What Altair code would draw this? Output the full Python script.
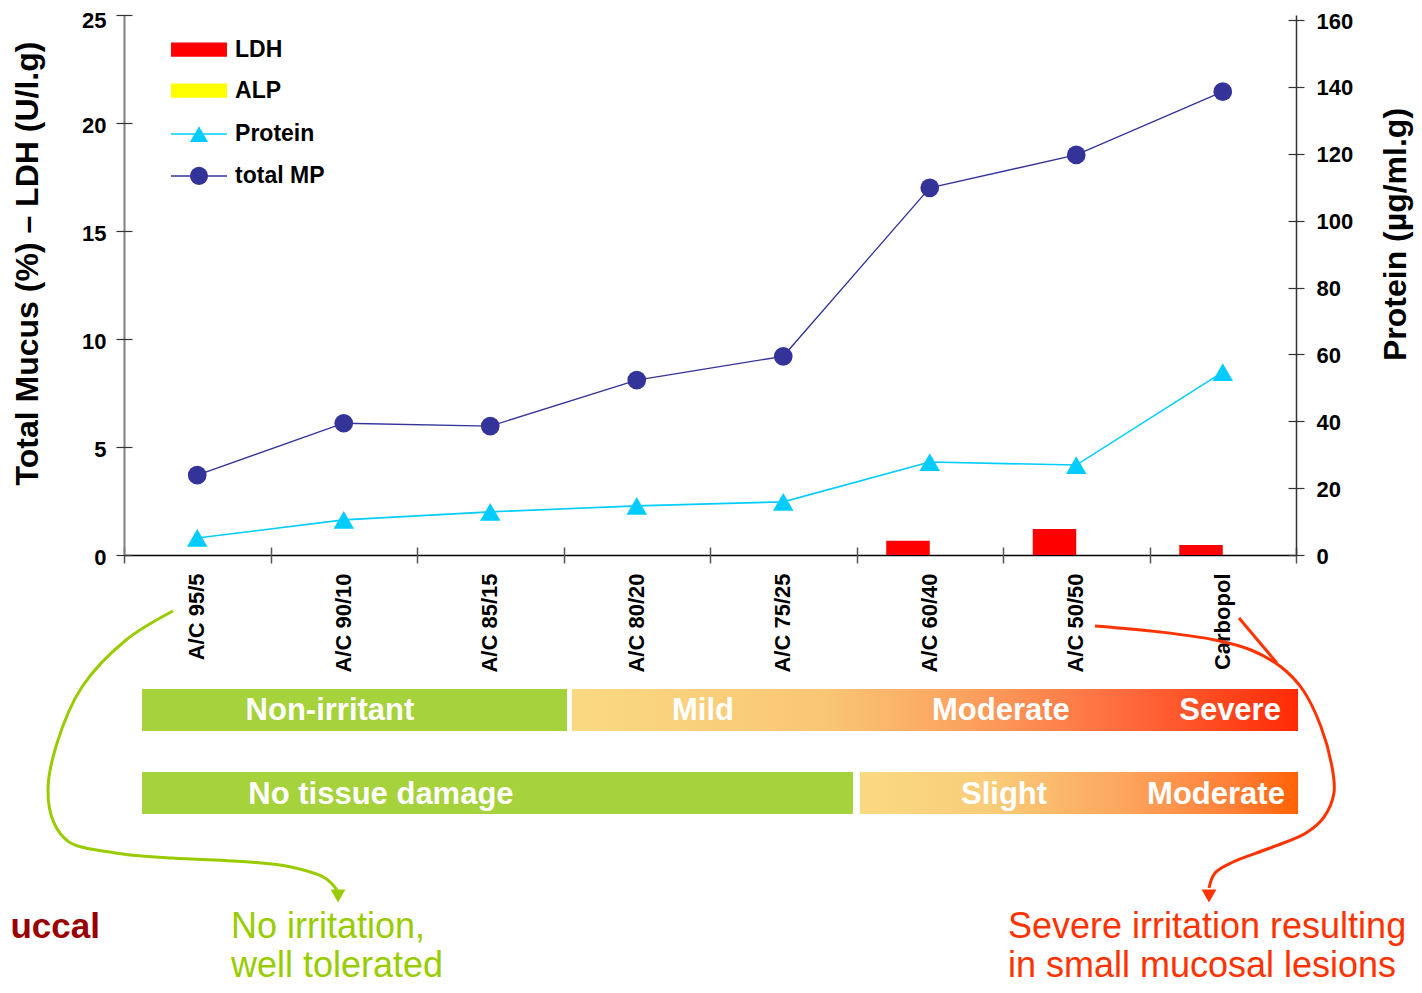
import altair as alt
import pandas as pd

# ---------------- main chart values ----------------
categories = ["A/C 95/5", "A/C 90/10", "A/C 85/15", "A/C 80/20",
              "A/C 75/25", "A/C 60/40", "A/C 50/50", "Carbopol"]
ldh = [0, 0, 0, 0, 0, 0.66, 1.2, 0.46]
alp = [0, 0, 0, 0, 0, 0, 0, 0]
total_mp = [3.7, 6.1, 5.97, 8.1, 9.2, 17.0, 18.52, 21.45]
protein = [5.1, 10.5, 12.9, 14.7, 15.9, 27.8, 26.9, 54.7]

left_ticks = [0, 5, 10, 15, 20, 25]
right_ticks = [0, 20, 40, 60, 80, 100, 120, 140, 160]

# ---------------- annotation values (x in category units, y in left-axis units) ----------------
band_green_label = ["Non-irritant", "No tissue damage"]
band_green_x = [0.123, 0.123]
band_green_x2 = [3.024, 4.976]
band_row_y = [-6.204, -10.046]
band_row_y2 = [-8.148, -11.99]

band_grad1_x, band_grad1_x2 = [3.058], [8.014]
band_grad2_x, band_grad2_x2 = [5.024], [8.014]

band_text = ["Non-irritant", "Mild", "Moderate", "Severe", "No tissue damage", "Slight", "Moderate"]
band_text_x = [1.406, 3.952, 5.986, 7.550, 1.754, 6.007, 7.454]
band_text_y = [-7.22, -7.22, -7.22, -7.22, -11.11, -11.11, -11.11]

green_curve_x = [0.334, 0.014, -0.287, -0.457, -0.519, -0.478, -0.375, -0.061, 0.328, 0.853, 1.140, 1.372, 1.454]
green_curve_y = [-2.593, -3.935, -6.111, -8.704, -10.880, -12.407, -13.287, -13.796, -14.028, -14.213, -14.444, -14.954, -15.509]

red_curve_x = [6.628, 7.072, 7.447, 7.693, 7.898, 8.048, 8.171, 8.246, 8.259, 8.191, 8.068, 7.823, 7.570, 7.447, 7.406]
red_curve_y = [-3.287, -3.565, -3.935, -4.398, -5.185, -6.25, -7.963, -9.815, -11.019, -12.130, -12.870, -13.565, -14.213, -14.722, -15.417]
red_branch_x = [7.611, 7.870]
red_branch_y = [-2.917, -5.0]

arrow_x = [1.461, 7.406]
arrow_y = [-15.787, -15.787]
arrow_color = ["#99CC00", "#FF3300"]

legend_items = ["LDH", "ALP", "Protein", "total MP"]
legend_colors = ["#FF0000", "#FFFF00", "#00CCFF", "#333399"]
legend_y = [23.40, 21.50, 19.49, 17.55]
legend_x0, legend_x1, legend_xm, legend_tx = 0.321, 0.703, 0.512, 0.758

note_text = ["No irritation,", "well tolerated", "Severe irritation resulting", "in small mucosal lesions"]
note_x = [0.730, 0.730, 6.034, 6.034]
note_y = [-17.73, -19.537, -17.73, -19.537]
note_color = ["#99CC00", "#99CC00", "#FF3300", "#FF3300"]

side_text = ["uccal"]
side_x = [-0.164]
side_y = [-17.73]

FONT = "Liberation Sans"

# ---------------- data frames ----------------
bars_df = pd.DataFrame({
    "category": categories * 2,
    "series": ["LDH"] * len(categories) + ["ALP"] * len(categories),
    "value": ldh + alp,
})
lines_df = pd.DataFrame({"category": categories, "total_mp": total_mp, "protein": protein})

xband = alt.Scale(type="band", domain=categories, paddingInner=0, paddingOuter=0)
yleft = alt.Scale(domain=[0, 25], nice=False, zero=True)
yright = alt.Scale(domain=[0, 161.5], nice=False, zero=True)

x_label_axis = alt.Axis(orient="bottom", title=None, labelAngle=270, labelFontSize=22,
                        labelFontWeight="bold", labelColor="black", labelPadding=18,
                        ticks=False, domainColor="black", domainWidth=1.5, grid=False,
                        labelLimit=400)
x_tick_axis = alt.Axis(orient="bottom", title=None, labels=False, domain=False, grid=False,
                       ticks=True, tickSize=16, offset=-8, tickBand="extent",
                       tickColor="#555555", tickWidth=1.5)
yl_label_axis = alt.Axis(orient="left", values=left_ticks, title="Total Mucus (%) – LDH (U/l.g)",
                         titleFontSize=32, titleFontWeight="bold", titleColor="black",
                         titlePadding=37, titleY=248, labelFontSize=22, labelFontWeight="bold",
                         labelColor="black", labelPadding=18,
                         labelOffset={"condition": {"test": "datum.value === 25", "value": 5}, "value": 2},
                         ticks=False, domainColor="#808080", domainWidth=2, grid=False)
yl_tick_axis = alt.Axis(orient="left", values=left_ticks, title=None, labels=False, domain=False,
                        grid=False, tickSize=16, offset=-8, tickColor="#333333", tickWidth=1.2)
yr_label_axis = alt.Axis(orient="right", values=right_ticks, title="Protein (µg/ml.g)",
                         titleAngle=270, titleFontSize=32, titleFontWeight="bold",
                         titleColor="black", titlePadding=60, titleY=219, labelFontSize=22,
                         labelFontWeight="bold", labelColor="black", labelPadding=20,
                         labelOffset=1, ticks=False, domainColor="#333333", domainWidth=1.5,
                         grid=False)
yr_tick_axis = alt.Axis(orient="right", values=right_ticks, title=None, labels=False, domain=False,
                        grid=False, tickSize=16, offset=-8, tickColor="#333333", tickWidth=1.2)

bars = alt.Chart(bars_df).mark_bar().encode(
    x=alt.X("category:N", scale=xband, axis=x_label_axis),
    xOffset=alt.XOffset("series:N", scale=alt.Scale(domain=["LDH", "ALP"], paddingInner=0, paddingOuter=0.684)),
    y=alt.Y("value:Q", scale=yleft, axis=yl_label_axis),
    color=alt.Color("series:N", scale=alt.Scale(domain=["LDH", "ALP"], range=["#FF0000", "#FFFF00"]), legend=None),
)
mp_line = alt.Chart(lines_df).mark_line(color="#333399", strokeWidth=1.3).encode(
    x=alt.X("category:N", scale=xband, axis=x_tick_axis),
    y=alt.Y("total_mp:Q", scale=yleft, axis=yl_tick_axis),
)
mp_pts = alt.Chart(lines_df).mark_point(shape="circle", filled=True, size=350, color="#333399", opacity=1).encode(
    x=alt.X("category:N", scale=xband, axis=None),
    y=alt.Y("total_mp:Q", scale=yleft, axis=None),
)
left_group = alt.layer(bars, mp_line, mp_pts).resolve_axis(x="independent", y="independent")

prot_line = alt.Chart(lines_df).mark_line(color="#00CCFF", strokeWidth=1.6).encode(
    x=alt.X("category:N", scale=xband, axis=None),
    y=alt.Y("protein:Q", scale=yright, axis=yr_label_axis),
)
prot_pts = alt.Chart(lines_df).mark_point(shape="triangle-up", filled=True, size=420, color="#00CCFF", opacity=1).encode(
    x=alt.X("category:N", scale=xband, axis=None),
    y=alt.Y("protein:Q", scale=yright, axis=yr_tick_axis),
)
right_group = alt.layer(prot_line, prot_pts).resolve_axis(y="independent")

# ---------------- annotation layer ----------------
xs = alt.Scale(domain=[0, 8], nice=False, zero=False)
ys = alt.Scale(domain=[0, 25], nice=False, zero=False)


def X(f):
    return alt.X(f, type="quantitative", scale=xs, axis=None)


def Y(f):
    return alt.Y(f, type="quantitative", scale=ys, axis=None)


green_df = pd.DataFrame({"label": band_green_label, "x": band_green_x, "x2": band_green_x2,
                         "y": band_row_y, "y2": band_row_y2})
g1_df = pd.DataFrame({"x": band_grad1_x, "x2": band_grad1_x2, "y": band_row_y[:1], "y2": band_row_y2[:1]})
g2_df = pd.DataFrame({"x": band_grad2_x, "x2": band_grad2_x2, "y": band_row_y[1:], "y2": band_row_y2[1:]})

grad1 = alt.LinearGradient(gradient="linear", x1=0, x2=1, y1=0, y2=0, stops=[
    alt.GradientStop(offset=0, color="#FAD982"),
    alt.GradientStop(offset=0.35, color="#F9C674"),
    alt.GradientStop(offset=0.55, color="#FCA05E"),
    alt.GradientStop(offset=0.78, color="#FF6639"),
    alt.GradientStop(offset=1, color="#FF2A05"),
])
grad2 = alt.LinearGradient(gradient="linear", x1=0, x2=1, y1=0, y2=0, stops=[
    alt.GradientStop(offset=0, color="#FAD982"),
    alt.GradientStop(offset=0.3, color="#F9CC78"),
    alt.GradientStop(offset=0.6, color="#FCA55E"),
    alt.GradientStop(offset=0.85, color="#FF8038"),
    alt.GradientStop(offset=1, color="#FF6205"),
])

green_bands = alt.Chart(green_df).mark_rect(fill="#A6D23C").encode(x=X("x"), x2="x2", y=Y("y"), y2="y2")
g1_band = alt.Chart(g1_df).mark_rect(fill=grad1).encode(x=X("x"), x2="x2", y=Y("y"), y2="y2")
g2_band = alt.Chart(g2_df).mark_rect(fill=grad2).encode(x=X("x"), x2="x2", y=Y("y"), y2="y2")

btext_df = pd.DataFrame({"t": band_text, "x": band_text_x, "y": band_text_y})
band_labels = alt.Chart(btext_df).mark_text(font=FONT, fontSize=31, fontWeight="bold", color="white",
                                            align="center", baseline="middle").encode(
    x=X("x"), y=Y("y"), text="t:N")

curves_df = pd.DataFrame({
    "x": green_curve_x + red_curve_x + red_branch_x,
    "y": green_curve_y + red_curve_y + red_branch_y,
    "order": list(range(len(green_curve_x))) + list(range(len(red_curve_x))) + list(range(len(red_branch_x))),
    "curve": ["green"] * len(green_curve_x) + ["red"] * len(red_curve_x) + ["redb"] * len(red_branch_x),
    "color": ["#99CC00"] * len(green_curve_x) + ["#FF3300"] * (len(red_curve_x) + len(red_branch_x)),
})
curves = alt.Chart(curves_df).mark_line(strokeWidth=3, interpolate="catmull-rom").encode(
    x=X("x"), y=Y("y"), order="order:Q", detail="curve:N",
    color=alt.Color("color:N", scale=None))

arrows_df = pd.DataFrame({"x": arrow_x, "y": arrow_y, "color": arrow_color})
arrows = alt.Chart(arrows_df).mark_point(shape="triangle-down", filled=True, size=220, opacity=1).encode(
    x=X("x"), y=Y("y"), color=alt.Color("color:N", scale=None))

leg_df = pd.DataFrame({"item": legend_items, "color": legend_colors, "y": legend_y})
leg_df["x0"] = legend_x0
leg_df["x1"] = legend_x1
leg_df["xm"] = legend_xm
leg_df["tx"] = legend_tx
leg_df["ylo"] = leg_df["y"] - 0.33
leg_df["yhi"] = leg_df["y"] + 0.33
leg_df["shape"] = ["square", "square", "triangle-up", "circle"]

leg_rects = alt.Chart(leg_df).transform_filter(
    alt.FieldOneOfPredicate(field="item", oneOf=["LDH", "ALP"])).mark_rect().encode(
    x=X("x0"), x2="x1", y=Y("ylo"), y2="yhi", color=alt.Color("color:N", scale=None))
leg_lines = alt.Chart(leg_df).transform_filter(
    alt.FieldOneOfPredicate(field="item", oneOf=["Protein", "total MP"])).mark_rule(strokeWidth=1.5).encode(
    x=X("x0"), x2="x1", y=Y("y"), color=alt.Color("color:N", scale=None))
leg_pts = alt.Chart(leg_df).transform_filter(
    alt.FieldOneOfPredicate(field="item", oneOf=["Protein", "total MP"])).mark_point(
    filled=True, size=330, opacity=1).encode(
    x=X("xm"), y=Y("y"), color=alt.Color("color:N", scale=None), shape=alt.Shape("shape:N", scale=None))
leg_text = alt.Chart(leg_df).mark_text(font=FONT, fontSize=23, fontWeight="bold", color="black",
                                       align="left", baseline="middle").encode(
    x=X("tx"), y=Y("y"), text="item:N")

notes_df = pd.DataFrame({"t": note_text, "x": note_x, "y": note_y, "color": note_color})
notes = alt.Chart(notes_df).mark_text(font=FONT, fontSize=36, align="left", baseline="alphabetic").encode(
    x=X("x"), y=Y("y"), text="t:N", color=alt.Color("color:N", scale=None))
side_df = pd.DataFrame({"t": side_text, "x": side_x, "y": side_y})
side = alt.Chart(side_df).mark_text(font=FONT, fontSize=35, fontWeight="bold", color="#990000",
                                    align="right", baseline="alphabetic").encode(
    x=X("x"), y=Y("y"), text="t:N")

annot = alt.layer(green_bands, g1_band, g2_band, band_labels, curves, arrows,
                  leg_rects, leg_lines, leg_pts, leg_text, notes, side)

chart = alt.layer(left_group, right_group, annot).resolve_scale(
    x="independent", y="independent"
).properties(
    width=1172, height=540,
    padding={"left": 116, "top": 7, "right": 118, "bottom": 430},
    autosize=alt.AutoSizeParams(type="none"),
).configure(font=FONT).configure_view(stroke=None)

chart.save("out.html", embed_options={"renderer": "svg", "actions": False})
